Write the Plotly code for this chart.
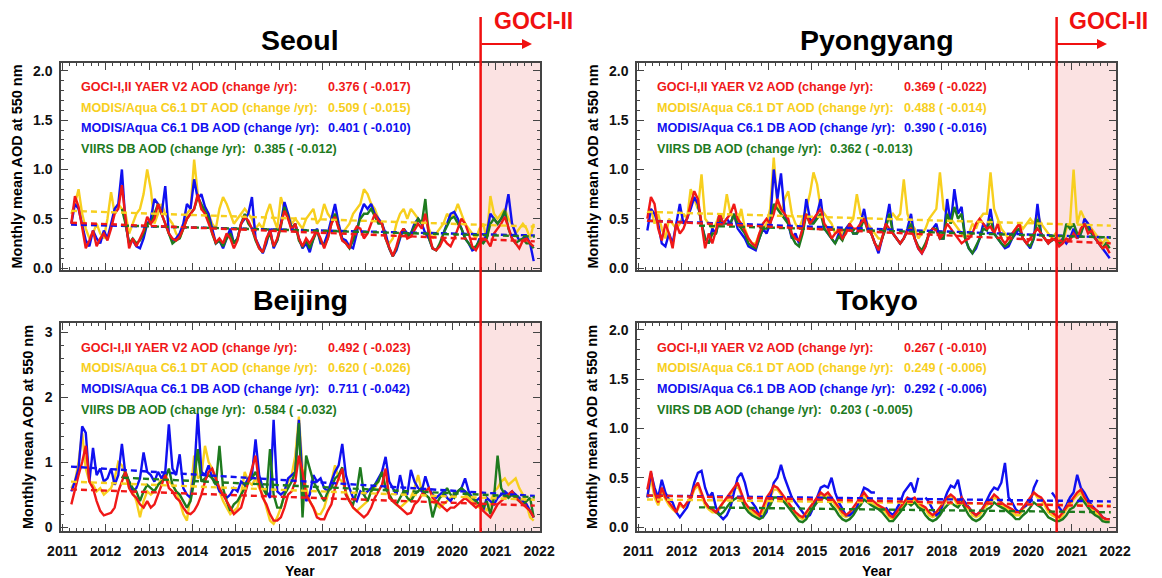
import plotly.graph_objects as go

N = None
years = list(range(2011, 2022))
month_time = [y + (m + 0.5) / 12 for y in years for m in range(12)]
year_ticks = list(range(2011, 2023))

series_names = ["GOCI-I,II YAER V2 AOD (change /yr):",
                "MODIS/Aqua C6.1 DT AOD (change /yr):",
                "MODIS/Aqua C6.1 DB AOD (change /yr):",
                "VIIRS DB AOD (change /yr):"]

# ---------------- Seoul ----------------
seoul_goci = [
    [N, N, .45, .73, .62, .40, .20, .28, .38, .22, .30, .35],
    [.28, .40, .55, .60, .84, .50, .20, .30, .22, .30, .38, .52],
    [.45, .50, .65, .55, .45, .35, .30, .28, .32, .40, .50, .55],
    [.60, .75, .60, .55, .45, .35, .26, .30, .25, .35, .30, .20],
    [.28, .45, .52, .48, .40, .30, .20, .16, .30, .38, .22, .30],
    [.45, .58, .50, .38, .45, .30, .22, .30, .25, .32, .38, .30],
    [.20, .30, .45, .52, .40, .28, .25, .20, .35, .42, .40, .30],
    [.35, .45, .55, .48, .45, .30, .20, .12, .22, .35, .40, .30],
    [.32, .38, .45, .40, .55, .35, .20, .18, .22, .30, .25, .22],
    [.30, .40, .50, .45, .35, .22, .18, .25, .30, .28, .22, .35],
    [.40, .45, .52, .40, .30, .25, .20, .28, .30, .25, .22, N],
]
seoul_dt = [
    [N, N, .55, .65, .80, .55, .40, .30, .35, .45, .35, .30],
    [.50, .77, .55, .65, .60, .55, .35, .45, .55, .60, .75, 1.00],
    [.80, .45, .55, .65, .55, .50, .45, .35, .30, .40, .55, .60],
    [1.10, .75, .60, .62, .55, .45, .40, .60, .72, .65, .55, .45],
    [.50, .55, .60, .55, .50, .40, .45, .40, .55, .65, .50, .40],
    [.72, .60, .55, .45, .50, .45, .40, .50, .55, .60, .45, .50],
    [.65, .55, .50, .55, .40, .35, .40, .45, .55, .60, .65, .80],
    [.75, .65, .60, .50, .45, .30, .25, .30, .45, .55, .60, .50],
    [.60, .55, .50, .45, .55, .40, .30, .35, .40, .45, .55, .50],
    [.55, .65, .55, .45, .40, .35, .30, .40, .45, .30, .73, .55],
    [.50, .55, .60, .50, .45, .35, .40, .45, .40, .30, .45, N],
]
seoul_db = [
    [N, N, .45, .65, .60, .45, .28, .22, .38, .30, .25, .38],
    [.30, .45, .60, .65, 1.00, .45, .25, .28, .22, .20, .30, .45],
    [.50, .70, .65, .55, .83, .35, .28, .30, .35, .45, .65, .60],
    [.90, .70, .75, .62, .55, .40, .25, .28, .20, .30, .40, .25],
    [.30, .45, .50, .55, .72, .30, .22, .15, .25, .40, .20, .28],
    [.45, .67, .55, .40, .45, .30, .20, .25, .16, .30, .40, .25],
    [.25, .35, .50, .65, .45, .30, .28, .22, .20, .35, .55, .65],
    [.60, .65, .55, .50, .45, .35, .20, .12, .18, .30, .40, .35],
    [.35, .45, .50, .45, .35, .30, .20, .18, N, .35, .45, .55],
    [.57, .50, .40, .30, .25, .18, .20, .30, .25, .35, .55, .50],
    [.45, .50, .55, .75, .45, .35, .28, .30, .32, .25, .07, N],
]
seoul_viirs = [
    [N, N, N, N, N, N, N, N, N, N, N, N],
    [N, N, N, N, .60, .45, .25, .30, .25, .28, .35, .45],
    [.45, .55, .65, .55, .45, .35, .25, .28, .30, .40, .50, .55],
    [.60, .72, .65, .58, .50, .35, .25, .28, .22, .30, .35, .25],
    [.30, .45, .55, .45, .40, .28, .20, .16, .28, .35, .22, .28],
    [.42, .62, .52, .40, .45, .28, .22, .28, .20, .30, .38, .28],
    [.22, .30, .45, .55, .42, .28, .25, .20, .28, .40, .50, .55],
    [.55, .60, .52, .45, .45, .30, .20, .12, .20, .32, .40, .32],
    [.35, .42, .50, .45, .70, .30, .20, .18, .25, .35, .42, .50],
    [.52, .45, .40, .30, .25, .20, .22, .28, .25, .30, .45, .50],
    [.45, .50, .58, .40, .30, .25, .28, .30, .25, .25, .20, N],
]
seoul_stats = ["0.376 ( -0.017)", "0.509 ( -0.015)", "0.401 ( -0.010)", "0.385 ( -0.012)"]
seoul_trend_start = [0.46, 0.58, 0.44, 0.43]
seoul_trend_end = [0.27, 0.42, 0.33, 0.32]

# ---------------- Pyongyang ----------------
pyongyang_goci = [
    [N, N, .50, .72, .65, .40, .28, .45, .35, .20, .45, .35],
    [.40, .50, .65, .78, .70, .45, .20, .35, .25, .38, .55, .45],
    [.50, .55, .65, .50, .45, .38, .30, .25, .22, .35, .45, .50],
    [.45, .55, .70, .60, .55, .50, .35, .30, .28, .40, .55, .45],
    [.50, .55, .60, .45, .40, .30, .35, .38, .30, .35, .45, .40],
    [.40, .45, .50, .40, .35, .25, .18, .30, .45, .40, .35, .30],
    [.25, .30, .38, .40, .30, .20, .15, .22, .35, .40, .38, .30],
    [.35, .45, .40, .35, .30, .25, .28, .30, .35, .45, .50, .45],
    [.40, .42, .35, .45, .30, .25, .30, .35, .40, .45, .30, .25],
    [.30, .35, .40, .35, .30, .25, .30, .28, .22, .25, .30, .28],
    [.35, .30, .40, .45, .35, .38, .30, .25, .20, .22, .15, N],
]
pyongyang_dt = [
    [N, N, .55, .60, .45, .55, .40, .30, .50, .45, .40, .45],
    [.55, .50, .80, .70, .60, .95, .50, .45, .40, .45, .55, .50],
    [.75, .55, .50, .45, .60, .40, .30, .25, .25, .35, .40, .45],
    [.60, 1.12, .65, .55, .70, .78, .55, .45, .40, .50, .60, .75],
    [.97, .85, .60, .55, .50, .45, .35, .40, .35, .40, .45, .50],
    [.75, .55, .50, .45, .40, .35, .30, .30, .45, .50, .55, .50],
    [.55, .90, .55, .45, .40, .30, .35, .40, .50, .55, .60, .97],
    [.60, .55, .50, .45, .40, .35, .30, .35, .45, .40, .50, .55],
    [.55, .97, .60, .50, .40, .35, .30, .35, .40, .45, .40, .45],
    [.50, .45, .55, .45, .40, .35, .30, .35, .30, .25, .40, .45],
    [1.00, .45, .58, .50, .45, .40, .35, .30, .25, .30, .25, N],
]
pyongyang_db = [
    [N, N, .38, .60, .55, .45, .25, .22, .35, .25, .45, .65],
    [.45, .50, .60, .72, .65, .45, .30, .25, .40, .35, .55, .45],
    [.50, .45, .55, .40, .35, .30, .22, .20, .18, .30, .40, .35],
    [.45, 1.00, .70, .96, .55, .45, .30, .35, .25, .40, .70, .50],
    [.45, .55, .70, .40, .35, .30, .25, .35, .30, .40, .45, .35],
    [.35, .45, .60, .40, .35, .25, .15, .30, .45, .65, .35, .30],
    [.25, .30, .40, .55, .30, .20, .15, .22, .35, .40, .45, .30],
    [.30, .70, .45, .80, .55, .62, .30, .20, .15, .20, .30, .45],
    [.40, .60, .35, .30, .25, .20, .22, .30, .35, .40, .30, .25],
    [.20, .30, .65, .35, .30, .25, .28, .30, .25, .30, .25, .30],
    [.40, .30, .35, .50, .45, .35, .30, .25, .20, .15, .10, N],
]
pyongyang_viirs = [
    [N, N, N, N, N, N, N, N, N, N, N, N],
    [N, N, N, N, .65, .45, .30, .25, .35, .35, .50, .45],
    [.45, .45, .55, .45, .40, .35, .25, .22, .20, .30, .40, .40],
    [.45, .65, .60, .55, .50, .45, .32, .25, .22, .35, .55, .45],
    [.45, .50, .55, .40, .35, .30, .25, .32, .28, .38, .42, .35],
    [.35, .40, .50, .38, .35, .25, .20, .30, .40, .55, .35, .30],
    [.25, .30, .38, .45, .30, .22, .18, .25, .35, .40, .40, .30],
    [.30, .55, .45, .62, .50, .55, .30, .20, .15, .22, .30, .40],
    [.38, .50, .35, .30, .25, .22, .25, .30, .38, .40, .30, .25],
    [.22, .30, .50, .35, .30, .25, .28, .30, .25, .28, .45, .40],
    [.45, .35, .35, .45, .40, .35, .30, .25, .20, .25, .20, N],
]
pyongyang_stats = ["0.369 ( -0.022)", "0.488 ( -0.014)", "0.390 ( -0.016)", "0.362 ( -0.013)"]
pyongyang_trend_start = [0.48, 0.57, 0.48, 0.43]
pyongyang_trend_end = [0.25, 0.43, 0.31, 0.31]

# ---------------- Beijing ----------------
beijing_goci = [
    [N, N, .35, .60, .80, 1.00, 1.25, .70, .60, .40, .25, .18],
    [.20, .22, .30, .55, .70, .85, .60, .50, .45, .35, .30, .40],
    [.30, .35, .50, .65, .80, .60, .55, .45, .40, .30, .22, .20],
    [.25, .35, .50, .70, .85, .90, .75, .60, .50, .40, .30, .20],
    [.25, .30, .50, .70, .90, 1.10, .65, .45, .35, .20, .10, .10],
    [.15, .30, .50, .55, .70, 1.10, .85, .50, .40, .30, .15, .12],
    [.12, .25, .35, .60, .75, .90, .50, .40, .30, .25, .20, .15],
    [.20, .30, .45, .55, .65, .90, .45, .40, .35, .30, .25, .20],
    [.22, .35, .40, .50, .55, .60, .45, .40, .35, .30, .25, .30],
    [.30, .35, .40, .45, .40, .35, .30, .35, .25, .20, .15, .25],
    [.35, .40, .45, .50, .55, .45, .40, .35, .30, .25, .15, N],
]
beijing_dt = [
    [N, N, .60, .70, 1.00, 1.45, .90, .70, .65, .55, .60, .50],
    [.55, .60, .75, 1.00, .95, .80, .60, .55, .40, .15, .40, .55],
    [.50, .55, .65, .75, .80, .70, .65, .55, .40, .20, .10, .50],
    [1.10, .75, .80, 1.25, 1.00, .90, .70, .55, .40, .30, .20, .25],
    [.30, .50, .85, .70, .65, .75, .60, .50, .30, .10, .05, .15],
    [.30, .50, .70, .80, 1.10, 1.70, .90, .60, .40, .30, .20, .20],
    [.30, .50, .70, .95, .75, .70, .55, .40, .30, .25, .30, .35],
    [.40, .55, .60, .70, .85, .60, .50, .40, .35, .30, .35, .40],
    [.45, .60, .80, .55, .50, .45, .40, .35, .30, .35, .40, .45],
    [.50, .55, .60, .50, .45, .40, .35, .30, .35, .25, .35, .55],
    [.60, .70, .75, .65, .70, .75, .60, .50, .35, .15, .10, N],
]
beijing_db = [
    [N, N, .55, .70, .90, 1.55, 1.45, .70, 1.22, .80, .90, .70],
    [.75, .90, .65, .80, 1.28, .80, .70, .55, .60, .75, 1.15, .85],
    [.80, .70, .85, .75, .85, 1.58, .90, .80, 1.12, .60, .50, .45],
    [.80, 1.75, .85, .80, .95, .75, .70, .55, .50, .45, .50, .60],
    [.55, .70, .65, .75, .80, 1.35, .80, .60, .55, .45, 1.65, .55],
    [.50, .55, .75, .80, .85, 1.65, .70, .40, .50, .80, .70, .75],
    [.60, .55, .70, .85, .95, 1.28, .80, .60, .45, .40, .55, .50],
    [.55, .60, .65, .75, .85, 1.08, .70, .60, .50, .80, .55, .50],
    [.88, .70, .60, .55, .78, .60, .50, .45, .50, .55, .45, .40],
    [.50, .55, .60, .75, .55, .45, .40, .45, .25, .45, .40, .35],
    [.45, .50, .55, .50, .55, .50, .45, .40, .35, .25, .15, N],
]
beijing_viirs = [
    [N, N, N, N, N, N, N, N, N, N, N, N],
    [N, N, N, N, .75, .85, .70, .60, .55, .40, .55, .65],
    [.60, .55, .65, .70, .75, .90, .65, .55, .50, .40, .30, .40],
    [.70, 1.20, .70, .75, .80, .75, .65, 1.25, .60, .40, .25, .35],
    [.40, .50, .60, .70, .75, .85, .70, .60, .50, 1.20, .50, .30],
    [.30, .50, .60, .70, .85, 1.60, .15, 1.10, .90, .70, .60, .50],
    [.40, .55, .60, .75, .80, .92, .50, .40, .35, .55, .92, .50],
    [.40, .55, .65, .70, .85, .60, .50, .40, .35, .45, .55, .45],
    [.40, .50, .55, .60, .50, .45, .15, .35, .45, .50, .60, .50],
    [.45, .55, .60, .55, .50, .45, .40, .35, .30, .40, .20, .45],
    [1.10, .60, .50, .45, .50, .45, .40, .35, .40, .45, .15, N],
]
beijing_stats = ["0.492 ( -0.023)", "0.620 ( -0.026)", "0.711 ( -0.042)", "0.584 ( -0.032)"]
beijing_trend_start = [0.58, 0.70, 0.93, 0.76]
beijing_trend_end = [0.33, 0.42, 0.48, 0.46]

# ---------------- Tokyo ----------------
tokyo_goci = [
    [N, N, .38, .57, .35, .25, .40, .30, .25, .20, .15, .25],
    [.20, .25, .30, .40, .45, .35, .25, .20, .18, .15, .20, .25],
    [.30, .35, .40, .45, .35, .25, .20, .18, .15, .12, .20, .30],
    [.35, .42, .40, .35, .30, .25, .20, .15, .12, .10, .15, .20],
    [.25, .30, .35, .32, .35, .30, .25, .20, .15, .12, .15, .20],
    [.25, .30, .35, .30, .28, .25, .22, .20, .18, .12, .10, .15],
    [.20, .25, .30, .28, .30, .25, .22, .20, .15, .12, .15, .20],
    [.25, .30, .33, .30, .25, .30, .22, .20, .15, .12, .15, .20],
    [.25, .28, .33, .30, .25, .22, .20, .18, .15, .15, .20, .25],
    [.30, .35, .32, .30, .25, .18, .15, .12, .10, .15, .20, .25],
    [.30, .35, .38, .30, .25, .20, .18, .15, .10, .08, .08, N],
]
tokyo_dt = [
    [N, N, .30, .50, .30, .22, .35, .28, .22, .18, .15, .22],
    [.20, .22, .28, .38, .42, .32, .22, .18, .15, .15, .18, .25],
    [.28, .33, .38, .42, .33, .22, .18, .15, .12, .10, .15, .25],
    [.30, .38, .38, .33, .28, .22, .18, .12, .10, .08, .12, .18],
    [.22, .28, .33, .30, .32, .28, .22, .18, .12, .10, .12, .18],
    [.22, .28, .32, .28, .25, .22, .20, .18, .15, .10, .08, .12],
    [.18, .22, .28, .25, .28, .22, .20, .18, .12, .10, .12, .18],
    [.22, .28, .30, .28, .22, .28, .20, .18, .12, .10, .12, .18],
    [.22, .25, .30, .28, .22, .20, .18, .15, .12, .12, .18, .22],
    [.28, .35, .30, .28, .22, .15, .12, .10, .08, .12, .18, .22],
    [.28, .32, .35, .28, .22, .18, .15, .12, .08, .06, .06, N],
]
tokyo_db = [
    [N, N, .30, .55, .40, .30, .48, .35, .28, .25, .15, .10],
    [.15, .20, .30, .45, .55, .57, .40, .30, .35, .20, .12, .08],
    [.12, .20, .35, .50, .55, .45, .30, .25, .20, .12, .10, .15],
    [.30, .45, .50, .63, .50, .40, .30, .25, .20, .15, .10, .12],
    [.20, .30, .40, .42, .40, .50, .35, .25, .18, .12, .12, .15],
    [.20, .30, .40, .38, .35, .35, N, N, .20, .15, .12, .18],
    [.25, .35, .40, .45, .35, .50, N, .30, .25, .18, .12, .15],
    [.25, .35, .42, .40, .48, .30, .25, .20, .15, .12, .15, .20],
    [.28, .35, .40, .38, .45, .65, .30, .25, .18, .15, .20, .22],
    [.25, .40, .48, N, N, N, .35, .30, .20, .15, .22, .30],
    [.35, .53, .40, .35, .28, .22, .18, .15, .10, .08, .08, N],
]
tokyo_viirs = [
    [N, N, N, N, N, N, N, N, N, N, N, N],
    [N, N, N, N, N, N, .25, .20, .18, .15, .12, .15],
    [.20, .25, .28, .30, .28, .20, .15, .12, .10, .08, .10, .18],
    [.22, .30, .30, .28, .25, .20, .15, .10, .06, .05, .08, .15],
    [.20, .25, .28, .30, .28, .22, .18, .12, .08, .06, .08, .12],
    [.18, .22, .28, .25, .22, .20, .18, .15, .10, .06, .06, .10],
    [.15, .20, .25, .22, .25, .20, .18, .12, .08, .06, .08, .12],
    [.18, .22, .25, .22, .20, .25, .18, .12, .08, .06, .08, .12],
    [.18, .20, .25, .22, .20, .18, .15, .12, .08, .08, .12, .15],
    [.20, .25, .22, .20, .15, .10, .08, .06, .06, .08, .12, .18],
    [.20, .25, .30, .25, .20, .15, .12, .10, .06, .05, .05, N],
]
tokyo_stats = ["0.267 ( -0.010)", "0.249 ( -0.006)", "0.292 ( -0.006)", "0.203 ( -0.005)"]
tokyo_trend_start = [0.32, 0.28, 0.32, 0.20]
tokyo_trend_end = [0.21, 0.22, 0.26, 0.15]

trend_first_year = [2011.2, 2011.2, 2011.2, 2012.4]
trend_last_year = [2021.9, 2021.9, 2021.9, 2021.9]
goci2_start = 2020.65

colors = ["#F01818", "#F7CF1E", "#1010F0", "#1E7A1E"]


def flat(rows):
    out = [v for r in rows for v in r]
    assert len(out) == len(month_time), len(out)
    return out


# The page body has an 8px margin, so the figure is 8px smaller and all
# reference pixel positions are shifted by OFF.
OFF = 8
W, H = 1162 - OFF, 578 - OFF
FONT = "Liberation Sans"


def px_x(px):
    return (px - OFF) / W


def px_y(py):
    return 1 - (py - OFF) / H


# reference pixel frames (left, right, top, bottom)
frames = {
    "Seoul": (61, 540, 63, 270),
    "Pyongyang": (637, 1116, 63, 270),
    "Beijing": (61, 540, 323, 531),
    "Tokyo": (637, 1116, 323, 531),
}
yranges = {
    "Seoul": ([-0.02, 2.08], [0, 0.5, 1.0, 1.5, 2.0], ["0.0", "0.5", "1.0", "1.5", "2.0"], 0.1),
    "Pyongyang": ([-0.02, 2.08], [0, 0.5, 1.0, 1.5, 2.0], ["0.0", "0.5", "1.0", "1.5", "2.0"], 0.1),
    "Beijing": ([-0.06, 3.14], [0, 1, 2, 3], ["0", "1", "2", "3"], 0.2),
    "Tokyo": ([-0.04, 2.07], [0, 0.5, 1.0, 1.5, 2.0], ["0.0", "0.5", "1.0", "1.5", "2.0"], 0.1),
}
panel_data = {
    "Seoul": ([seoul_goci, seoul_dt, seoul_db, seoul_viirs], seoul_stats, seoul_trend_start, seoul_trend_end),
    "Pyongyang": ([pyongyang_goci, pyongyang_dt, pyongyang_db, pyongyang_viirs], pyongyang_stats,
                  pyongyang_trend_start, pyongyang_trend_end),
    "Beijing": ([beijing_goci, beijing_dt, beijing_db, beijing_viirs], beijing_stats,
                beijing_trend_start, beijing_trend_end),
    "Tokyo": ([tokyo_goci, tokyo_dt, tokyo_db, tokyo_viirs], tokyo_stats, tokyo_trend_start, tokyo_trend_end),
}
ytitle_x = {"Seoul": 16, "Pyongyang": 592, "Beijing": 28, "Tokyo": 592}

fig = go.Figure()
layout = dict(width=W, height=H, margin=dict(l=0, r=0, t=0, b=0, autoexpand=False),
              paper_bgcolor="white", plot_bgcolor="white", showlegend=False,
              font=dict(family=FONT, color="black"))
annotations = []
shapes = []

draw_order = [1, 2, 3, 0]  # yellow, blue, green, red on top

for i, city in enumerate(["Seoul", "Pyongyang", "Beijing", "Tokyo"]):
    n = "" if i == 0 else str(i + 1)
    xa, ya = "x" + n, "y" + n
    L, R, T, B = frames[city]
    bottom_row = city in ("Beijing", "Tokyo")
    yr, yt, ytt, ymin = yranges[city]
    layout["xaxis" + n] = dict(
        domain=[px_x(L), px_x(R)], anchor=ya, range=[2010.97, 2022.02], automargin=False,
        tickvals=year_ticks, ticktext=[str(v) for v in year_ticks],
        showticklabels=bottom_row, ticks="inside", ticklen=7, tickwidth=1, tickcolor="#444",
        minor=dict(ticks="inside", ticklen=3, dtick=1 / 6, tick0=2011, tickcolor="#444"),
        showline=True, linecolor="#444", linewidth=1.5, mirror="ticks", showgrid=False, zeroline=False,
        tickfont=dict(family=FONT, size=14, weight="bold", color="#111"), ticklabelstandoff=6,
    )
    layout["yaxis" + n] = dict(
        domain=[px_y(B), px_y(T)], anchor=xa, range=yr, tickvals=yt, ticktext=ytt, automargin=False,
        ticks="inside", ticklen=7, tickwidth=1, tickcolor="#444",
        minor=dict(ticks="inside", ticklen=3, dtick=ymin, tick0=0, tickcolor="#444"),
        showline=True, linecolor="#444", linewidth=1.5, mirror="ticks", showgrid=False, zeroline=False,
        tickfont=dict(family=FONT, size=14, weight="bold", color="#111"), ticklabelstandoff=4,
    )
    series, stats, tstart, tend = panel_data[city]
    for k in draw_order:
        fig.add_trace(go.Scatter(x=month_time, y=flat(series[k]), mode="lines", xaxis=xa, yaxis=ya,
                                 line=dict(color=colors[k], width=2.4), connectgaps=False))
    for k in draw_order:
        fig.add_trace(go.Scatter(x=[trend_first_year[k], trend_last_year[k]], y=[tstart[k], tend[k]],
                                 mode="lines", xaxis=xa, yaxis=ya,
                                 line=dict(color=colors[k], width=2.4, dash="6px,4px")))
    # pink GOCI-II region
    shapes.append(dict(type="rect", xref=xa, yref=ya + " domain", x0=goci2_start, x1=2022.02, y0=0, y1=1,
                       fillcolor="rgba(240,150,150,0.28)", line=dict(width=0), layer="below"))
    # title
    annotations.append(dict(text=city, xref="paper", yref="paper", x=(px_x(L) + px_x(R)) / 2,
                            y=px_y(T - 23), showarrow=False, xanchor="center", yanchor="middle",
                            font=dict(family=FONT, size=28.5, weight="bold", color="black")))
    # y title
    annotations.append(dict(text="Monthly mean AOD at 550 nm", xref="paper", yref="paper",
                            x=px_x(ytitle_x[city]), y=px_y((T + B) / 2), textangle=-90, showarrow=False,
                            xanchor="center", yanchor="middle",
                            font=dict(family=FONT, size=14.5, weight="bold", color="black")))
    if bottom_row:
        annotations.append(dict(text="Year", xref="paper", yref="paper", x=(px_x(L) + px_x(R)) / 2,
                                y=px_y(571), showarrow=False, xanchor="center", yanchor="middle",
                                font=dict(family=FONT, size=14, weight="bold", color="black")))
    # stats text
    ys = [0.882, 0.783, 0.684, 0.584]
    for k in range(4):
        annotations.append(dict(text=series_names[k], xref=xa + " domain", yref=ya + " domain",
                                x=0.037, y=ys[k], showarrow=False, xanchor="left", yanchor="middle",
                                font=dict(family=FONT, size=12.6, weight="bold", color=colors[k])))
        annotations.append(dict(text=stats[k], xref=xa + " domain", yref=ya + " domain",
                                x=0.399 if k == 3 else 0.553, y=ys[k], showarrow=False,
                                xanchor="left", yanchor="middle",
                                font=dict(family=FONT, size=12.6, weight="bold", color=colors[k])))

# GOCI-II markers (vertical line, arrow, label) for left and right columns
for xa, line_px in (("x", 480), ("x2", 1055)):
    shapes.append(dict(type="line", xref=xa, yref="paper", x0=goci2_start, x1=goci2_start,
                       y0=px_y(532), y1=px_y(17), line=dict(color="#F01010", width=2.5)))
    annotations.append(dict(text="", xref="paper", yref="paper", x=px_x(line_px + 52), y=px_y(44),
                            ax=-52, ay=0, showarrow=True, arrowhead=2, arrowsize=1, arrowwidth=2,
                            arrowcolor="#F01010"))
    annotations.append(dict(text="GOCI-II", xref="paper", yref="paper", x=px_x(line_px + 12), y=px_y(21),
                            showarrow=False, xanchor="left", yanchor="middle",
                            font=dict(family=FONT, size=23, weight="bold", color="#F01010")))

layout["annotations"] = annotations
layout["shapes"] = shapes
fig.update_layout(**layout)
fig.write_html("out.html")
